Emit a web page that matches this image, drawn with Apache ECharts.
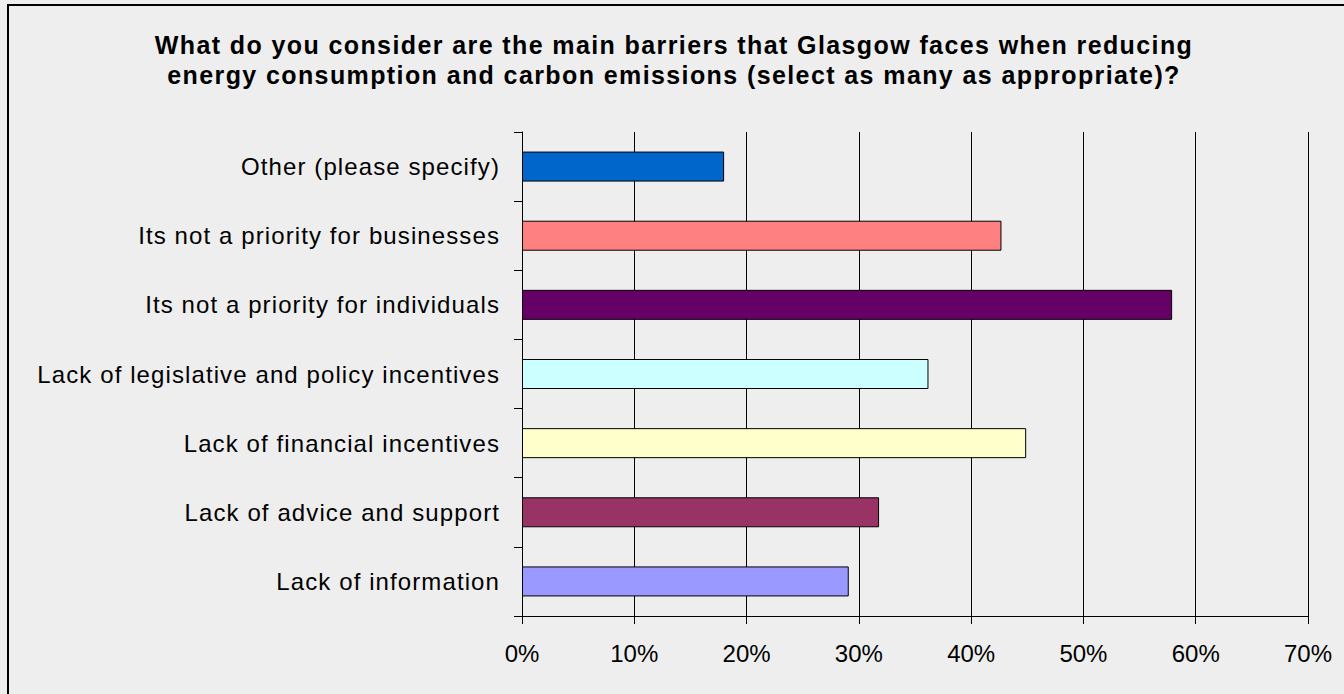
<!DOCTYPE html>
<html>
<head>
<meta charset="utf-8">
<style>
  html, body { margin: 0; padding: 0; background: #eeeeee; overflow: hidden; }
  #chart { width: 1344px; height: 694px; }
  #chart text[text-anchor="end"] { letter-spacing: 1.1px; }
  #chart text[style*="bold"] { letter-spacing: 1.4px; }
</style>
<script src="https://cdn.jsdelivr.net/npm/echarts@6/dist/echarts.min.js"></script>
</head>
<body>
<div id="chart"></div>
<script>
const titleLines = [
  'What do you consider are the main barriers that Glasgow faces when reducing',
  'energy consumption and carbon emissions (select as many as appropriate)?'
];
const categories = [
  'Lack of information',
  'Lack of advice and support',
  'Lack of financial incentives',
  'Lack of legislative and policy incentives',
  'Its not a priority for individuals',
  'Its not a priority for businesses',
  'Other (please specify)'
];
const values = [29.1, 31.8, 44.9, 36.2, 57.9, 42.7, 18.0];
const barColors = ['#9999FF', '#993366', '#FFFFCC', '#CCFFFF', '#660066', '#FF8080', '#0066CC'];
const xTicks = [0, 10, 20, 30, 40, 50, 60, 70];

const chart = echarts.init(document.getElementById('chart'), null, { renderer: 'svg' });
const fontFam = 'Liberation Sans, Arial, sans-serif';
chart.setOption({
  animation: false,
  backgroundColor: '#eeeeee',
  graphic: [
    {
      type: 'line', z: -5, silent: true,
      shape: { x1: 8, y1: 5, x2: 1344, y2: 5 },
      style: { stroke: '#000000', lineWidth: 2 }
    },
    {
      type: 'line', z: -5, silent: true,
      shape: { x1: 8, y1: 4, x2: 8, y2: 694 },
      style: { stroke: '#000000', lineWidth: 2 }
    }
  ],
  title: {
    text: titleLines.join('\n'),
    left: 669,
    top: 25,
    textAlign: 'center',
    textStyle: {
      fontFamily: fontFam,
      fontWeight: 'bold',
      fontSize: 25,
      lineHeight: 30,
      color: '#000000'
    }
  },
  grid: { left: 522, top: 132, width: 786, height: 484, containLabel: false },
  xAxis: {
    type: 'value',
    min: xTicks[0],
    max: xTicks[xTicks.length - 1],
    interval: 10,
    axisLine: { show: true, lineStyle: { color: '#000000', width: 1 } },
    axisTick: { show: true, length: 8, lineStyle: { color: '#000000' } },
    splitLine: { show: true, lineStyle: { color: '#000000', width: 1 } },
    axisLabel: {
      formatter: v => v + '%',
      margin: 25,
      fontFamily: fontFam,
      fontSize: 24,
      color: '#000000'
    }
  },
  yAxis: {
    type: 'category',
    data: categories,
    axisLine: { show: true, lineStyle: { color: '#000000', width: 1 } },
    axisTick: { show: true, length: 8, lineStyle: { color: '#000000' } },
    splitLine: { show: false },
    axisLabel: {
      margin: 22,
      fontFamily: fontFam,
      fontSize: 24,
      color: '#000000'
    }
  },
  series: [{
    type: 'bar',
    barWidth: 30,
    data: values.map((v, i) => ({
      value: v,
      itemStyle: { color: barColors[i], borderColor: '#000000', borderWidth: 1 }
    }))
  }]
});
</script>
</body>
</html>
